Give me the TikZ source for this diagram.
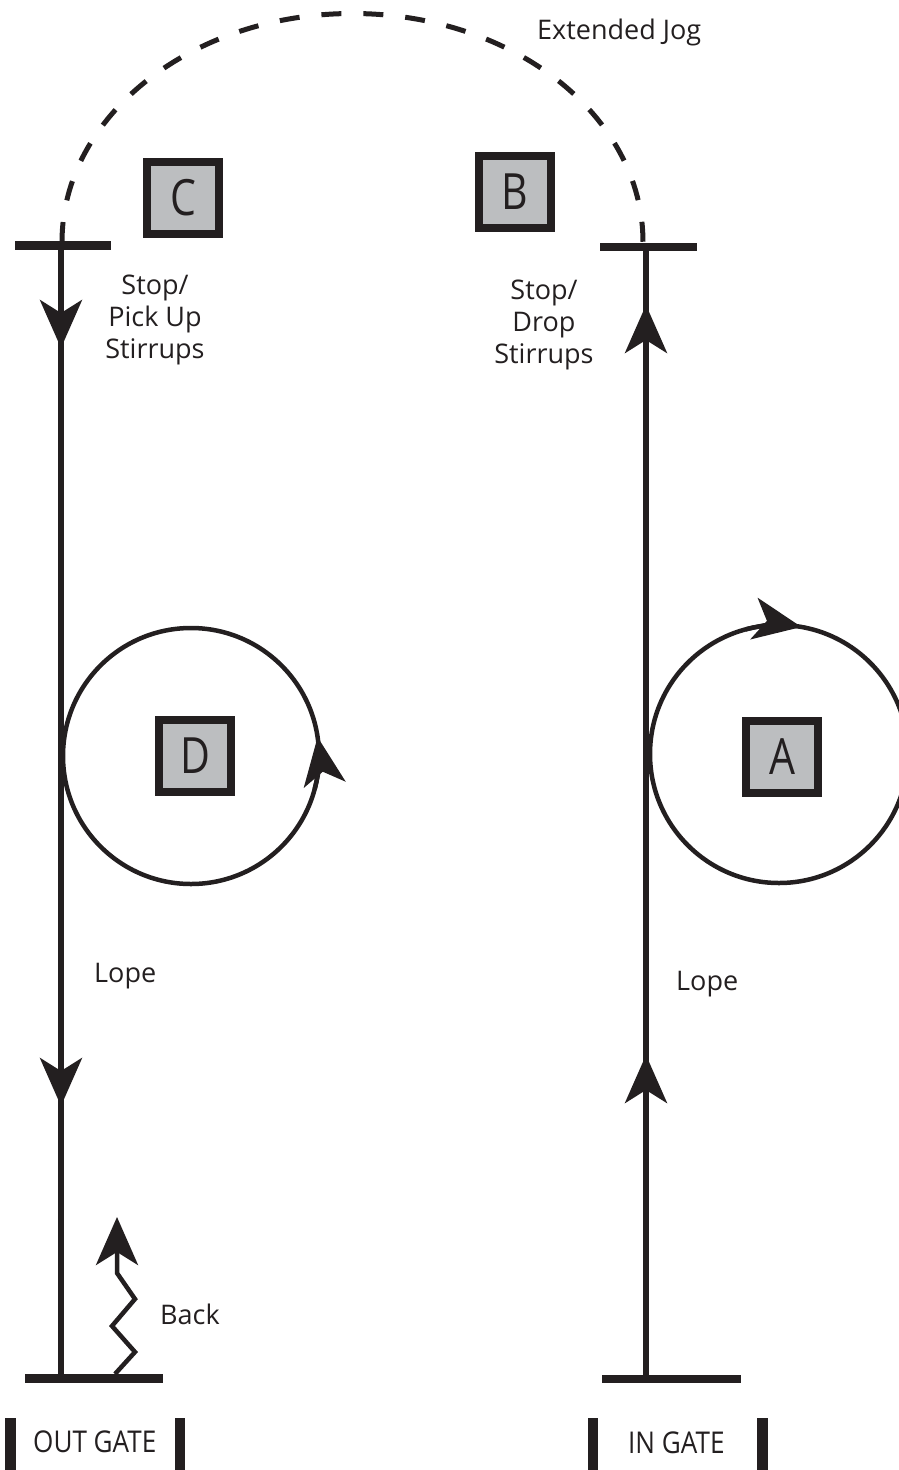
\documentclass[tikz,border=0pt]{standalone}
\usepackage{fontspec}
\setmainfont{Open Sans}
\usetikzlibrary{arrows.meta}
\definecolor{ink}{HTML}{231F20}
\definecolor{boxgray}{HTML}{BCBEC0}
\begin{document}
\begin{tikzpicture}[x=1pt,y=-1pt,
  track/.style={draw=ink, line width=5.5pt},
  loop/.style={draw=ink, line width=4.5pt},
  bar/.style={draw=ink, line width=8.5pt},
  arr/.style={-{Stealth[length=48pt,width=42pt,inset=13pt]}},
  lbl/.style={font=\fontsize{27}{32}\selectfont, text=ink, align=center, inner sep=0pt},
  gatelbl/.style={font=\fontsize{30}{32}\selectfont\addfontfeature{FakeStretch=0.87}, text=ink, inner sep=0pt},
  letterbox/.style={draw=ink, fill=boxgray, line width=8pt, minimum size=72pt, inner sep=0pt,
    font=\fontsize{50}{50}\selectfont\addfontfeature{FakeStretch=0.82}, text=ink}]
\clip (0,0) rectangle (899,1470);
% bars
\draw[bar] (15,245.5) -- (111,245.5);
\draw[bar] (600,247) -- (697,247);
\draw[bar] (25,1378.5) -- (163,1378.5);
\draw[bar] (602,1379) -- (741,1379);
% gate bars
\fill[ink] (5,1418) rectangle (16,1470);
\fill[ink] (175,1418) rectangle (185,1470);
\fill[ink] (588,1418) rectangle (598,1470);
\fill[ink] (757,1418) rectangle (768,1470);
% left track
\coordinate (LT) at (61,245.5);
\coordinate (LA1) at (61,300);
\coordinate (LTip1) at (61,348);
\coordinate (LA2) at (61,1058);
\coordinate (LTip2) at (61,1106);
\coordinate (LB) at (61,1374);
\draw[track] (LT) -- (LB);
\draw[track,arr] (LA1) -- (LTip1);
\draw[track,arr] (LA2) -- (LTip2);
% right track
\coordinate (RB) at (646,1375);
\coordinate (RA1) at (646,1103);
\coordinate (RTip1) at (646,1055);
\coordinate (RA2) at (646,353);
\coordinate (RTip2) at (646,305);
\coordinate (RT) at (646,247);
\draw[track] (RB) -- (RT);
\draw[track,arr] (RA1) -- (RTip1);
\draw[track,arr] (RA2) -- (RTip2);
% extended jog
\coordinate (JL) at (62,242);
\draw[draw=ink, line width=5pt, dash pattern=on 20pt off 22pt]
  (JL) arc[start angle=180, end angle=360, x radius=290.5, y radius=228.5];
% circles
\coordinate (Dc) at (191,756);
\draw[loop] (Dc) circle[radius=128];
\draw[loop, arr] ([shift={(15:128)}]Dc) arc[start angle=15, end angle=-8.5, radius=128];
\coordinate (Ac) at (779,754);
\draw[loop] (Ac) circle[radius=129];
\draw[loop, arr] ([shift={(-105:129)}]Ac) arc[start angle=-105, end angle=-80, radius=129];
% back zigzag
\coordinate (Z0) at (115,1374);
\coordinate (Z5) at (117,1217);
\draw[loop, arr] (Z0) -- (135,1352) -- (112,1326) -- (135,1299) -- (117,1273) -- (Z5);
% boxes
\node[letterbox] (C) at (183,197.5) {C};
\node[letterbox] (B) at (515,192) {B};
\node[letterbox] (D) at (195,756) {D};
\node[letterbox] (A) at (782,756.5) {A};
% labels
\node[lbl, anchor=base west] (ext) at (537,39) {Extended Jog};
\node[lbl] (stopC) at (155,320) {Stop/\\Pick Up\\Stirrups};
\node[lbl] (stopB) at (544,325) {Stop/\\Drop\\Stirrups};
\node[lbl, anchor=base west] (lopeL) at (94,982) {Lope};
\node[lbl, anchor=base west] (lopeR) at (676,990) {Lope};
\node[lbl, anchor=base west] (back) at (160,1324) {Back};
\node[gatelbl, anchor=base west] (outg) at (33,1452) {OUT GATE};
\node[gatelbl, anchor=base west] (ing) at (628,1453) {IN GATE};
\end{tikzpicture}
\end{document}
